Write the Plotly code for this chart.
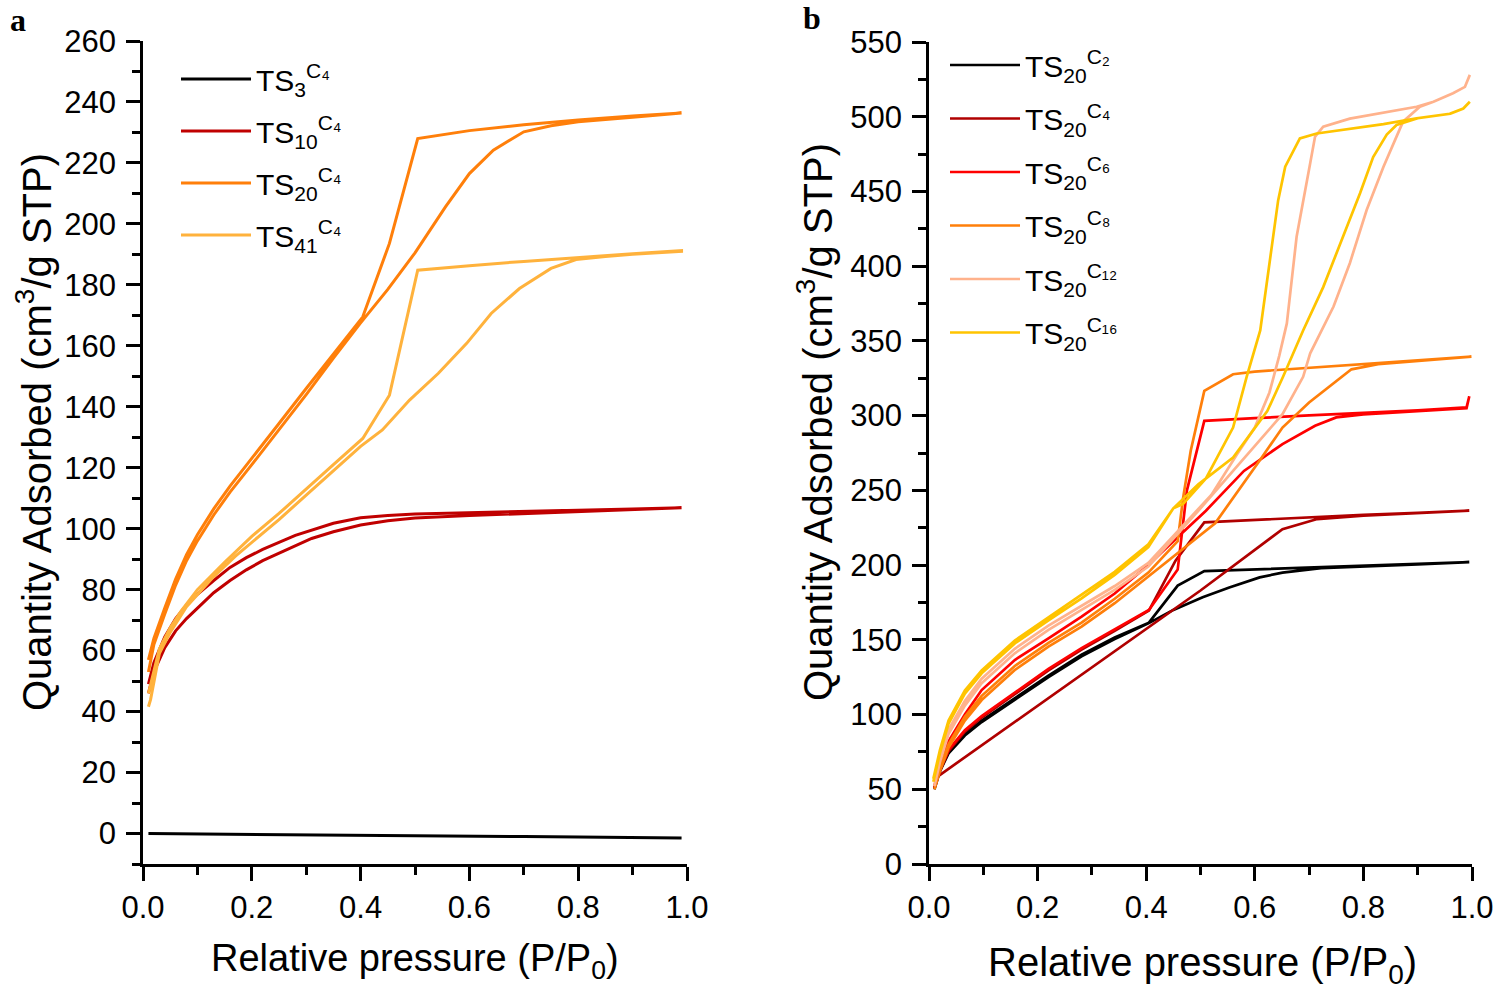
import plotly.graph_objects as go

# ---------------- Panel a data (TS^C4 series) ----------------
a_ts3_p = [0.01, 0.1, 0.2, 0.3, 0.4, 0.5, 0.6, 0.7, 0.8, 0.9, 0.99]
a_ts3_q = [0.0, -0.1, -0.25, -0.4, -0.55, -0.7, -0.85, -1.0, -1.15, -1.3, -1.5]

a_ts10_ads_p = [0.01, 0.02, 0.04, 0.06, 0.08, 0.1, 0.13, 0.16, 0.19, 0.22, 0.25, 0.28, 0.31, 0.35, 0.40, 0.45, 0.5, 0.6, 0.7, 0.8, 0.9, 0.99]
a_ts10_ads_q = [46, 53, 61, 66.5, 70.5, 74, 79, 83, 86.5, 89.5, 92, 94.5, 96.8, 99, 101.2, 102.6, 103.5, 104.3, 105, 105.6, 106.2, 106.8]
a_ts10_des_p = [0.99, 0.9, 0.8, 0.7, 0.6, 0.5, 0.45, 0.4, 0.35, 0.31, 0.28, 0.25, 0.22, 0.19, 0.16, 0.13, 0.1, 0.08, 0.06, 0.04, 0.02, 0.01]
a_ts10_des_q = [106.9, 106.5, 106.1, 105.7, 105.3, 104.8, 104.3, 103.6, 101.8, 99.6, 97.8, 95.5, 93.2, 90.5, 87.3, 83, 78.5, 75, 70.5, 64.5, 56, 49]

a_ts20_ads_p = [0.01, 0.02, 0.04, 0.06, 0.08, 0.1, 0.13, 0.16, 0.2, 0.25, 0.3, 0.35, 0.4, 0.45, 0.5, 0.556, 0.6, 0.644, 0.7, 0.75, 0.8, 0.9, 0.99]
a_ts20_ads_q = [53, 62, 72, 81.5, 89.5, 96, 104.5, 112, 121, 132.5, 144, 156, 167.5, 178.5, 190.5, 205.6, 216.5, 224.2, 230.2, 232.2, 233.5, 235, 236.2]
a_ts20_des_p = [0.99, 0.9, 0.8, 0.7, 0.6, 0.505, 0.453, 0.404, 0.35, 0.3, 0.25, 0.2, 0.16, 0.13, 0.1, 0.08, 0.06, 0.04, 0.02, 0.01]
a_ts20_des_q = [236.4, 235.4, 234.1, 232.5, 230.6, 228, 193.6, 169.5, 157.5, 146, 134.5, 123, 114, 106.5, 98, 91.5, 83.5, 74, 64, 57]

a_ts41_ads_p = [0.01, 0.014, 0.03, 0.05, 0.08, 0.1, 0.13, 0.17, 0.2, 0.25, 0.3, 0.35, 0.4, 0.44, 0.49, 0.543, 0.595, 0.64, 0.692, 0.75, 0.796, 0.85, 0.9, 0.99]
a_ts41_ads_q = [41.6, 44, 59, 66, 74.4, 78.5, 84.3, 91, 95.5, 103, 111, 119, 127, 132.4, 142.2, 151, 160.8, 170.6, 178.8, 185.4, 188.3, 189.3, 190, 191]
a_ts41_des_p = [0.99, 0.9, 0.8, 0.7, 0.6, 0.505, 0.453, 0.404, 0.35, 0.3, 0.25, 0.2, 0.15, 0.1, 0.07, 0.05, 0.03, 0.01]
a_ts41_des_q = [191.2, 190.2, 189, 187.7, 186.3, 184.8, 143.8, 129.6, 121, 113, 105, 97.5, 89, 80, 73, 67.5, 60.5, 46]

# ---------------- Panel b data (TS20^Cn series) ----------------
b_c2_ads_p = [0.01, 0.02, 0.036, 0.066, 0.097, 0.158, 0.22, 0.281, 0.342, 0.404, 0.45, 0.504, 0.553, 0.609, 0.651, 0.722, 0.8, 0.9, 0.995]
b_c2_ads_q = [50, 62, 74, 86, 95, 110, 125, 139, 150.5, 161, 170, 178.5, 185, 191.8, 195, 198, 199.3, 200.5, 202]
b_c2_des_p = [0.995, 0.9, 0.8, 0.7, 0.6, 0.507, 0.458, 0.405, 0.342, 0.281, 0.22, 0.158, 0.097, 0.066, 0.036, 0.02, 0.01]
b_c2_des_q = [202, 200.8, 199.8, 198.5, 197.3, 196, 186.3, 161.5, 151.5, 140, 126, 111, 96, 87, 75, 63, 51]

b_c4_ads_p = [0.01, 0.5, 0.651, 0.715, 0.8, 0.9, 0.995]
b_c4_ads_q = [57, 183, 224, 230.8, 233, 234.8, 236.4]
b_c4_des_p = [0.995, 0.9, 0.8, 0.7, 0.6, 0.507, 0.454, 0.405, 0.342, 0.281, 0.22, 0.158, 0.097, 0.066, 0.036, 0.02, 0.01]
b_c4_des_q = [236.4, 235, 233.6, 232, 230.4, 228.6, 203, 169.6, 156, 143.5, 129.5, 113.5, 98, 88.5, 75.5, 62, 51]

b_c6_ads_p = [0.01, 0.02, 0.036, 0.066, 0.097, 0.158, 0.22, 0.281, 0.342, 0.404, 0.45, 0.51, 0.58, 0.651, 0.711, 0.75, 0.8, 0.9, 0.99, 0.995]
b_c6_ads_q = [52, 66, 82, 100, 116.4, 136.5, 151, 165.5, 181, 200, 216, 236.4, 263, 281, 293.2, 298.8, 300.8, 302.8, 305, 313]
b_c6_des_p = [0.995, 0.99, 0.9, 0.8, 0.7, 0.6, 0.507, 0.475, 0.458, 0.405, 0.342, 0.281, 0.22, 0.158, 0.097, 0.066, 0.036, 0.02, 0.01]
b_c6_des_q = [313, 305.5, 303.5, 302, 300.2, 298.3, 296.5, 250, 197, 170, 157, 144.5, 130.5, 114.5, 99, 89.5, 76.5, 63, 51]

b_c8_ads_p = [0.01, 0.02, 0.036, 0.066, 0.097, 0.158, 0.22, 0.281, 0.342, 0.404, 0.465, 0.527, 0.609, 0.651, 0.70, 0.778, 0.827, 0.9, 0.999]
b_c8_ads_q = [50, 62, 78, 96, 109.7, 129.8, 145.4, 158.8, 174.5, 192.3, 210, 228, 270, 292, 308.8, 331, 334.4, 336.5, 339.3]
b_c8_des_p = [0.999, 0.9, 0.792, 0.7, 0.6, 0.56, 0.507, 0.482, 0.468, 0.458, 0.404, 0.342, 0.281, 0.22, 0.158, 0.097, 0.066, 0.036, 0.02, 0.01]
b_c8_des_q = [339.5, 337, 334.4, 332, 329.5, 327.7, 316.6, 276.5, 245, 216, 195, 177.5, 161.5, 148, 132.5, 112.5, 98.5, 80, 64, 52]

b_c12_ads_p = [0.01, 0.02, 0.036, 0.066, 0.097, 0.158, 0.22, 0.281, 0.342, 0.404, 0.454, 0.50, 0.56, 0.60, 0.651, 0.689, 0.702, 0.745, 0.775, 0.806, 0.837, 0.861, 0.873, 0.904, 0.929, 0.965, 0.987, 0.996]
b_c12_ads_q = [52, 68, 87, 106, 121, 141, 156.6, 170, 183.4, 199, 219, 238, 263, 280, 301, 326, 341.7, 373, 402, 437.6, 466.6, 486.7, 496.7, 506.7, 510, 515.7, 520, 528]
b_c12_des_p = [0.996, 0.987, 0.965, 0.929, 0.898, 0.837, 0.775, 0.726, 0.711, 0.702, 0.689, 0.677, 0.659, 0.645, 0.627, 0.60, 0.567, 0.52, 0.454, 0.404, 0.342, 0.281, 0.22, 0.158, 0.097, 0.066, 0.036, 0.02, 0.01]
b_c12_des_q = [528, 520, 515.7, 510, 506.7, 502.6, 498.7, 493.3, 486.7, 468.8, 444, 419.7, 361.7, 340, 315.5, 292, 274, 247, 221, 201.5, 186, 173, 159.5, 144, 124, 109, 90, 70, 53]

b_c16_ads_p = [0.008, 0.02, 0.036, 0.066, 0.097, 0.158, 0.22, 0.281, 0.342, 0.404, 0.45, 0.496, 0.56, 0.623, 0.652, 0.689, 0.726, 0.763, 0.794, 0.818, 0.843, 0.861, 0.9, 0.96, 0.984, 0.996]
b_c16_ads_q = [55, 74, 94, 114, 127.6, 147.6, 163, 177.8, 193.4, 212, 238, 254, 272, 303, 326, 357, 386, 420, 449, 473, 488, 494.5, 499, 502, 505.5, 510]
b_c16_des_p = [0.996, 0.984, 0.959, 0.898, 0.837, 0.775, 0.714, 0.683, 0.656, 0.643, 0.628, 0.61, 0.585, 0.56, 0.51, 0.468, 0.45, 0.404, 0.342, 0.281, 0.22, 0.158, 0.097, 0.066, 0.036, 0.02, 0.008]
b_c16_des_q = [510, 505.5, 502, 499, 495, 492, 488.8, 485.5, 466.6, 444, 404, 357, 326, 292, 258, 241, 238, 214, 195.5, 180, 165, 149.5, 129.5, 116, 96, 76, 57]

# ---------------- styling ----------------
W, H = 1500, 994
FONT = "Liberation Sans, Arial, sans-serif"
SERIF = "Liberation Serif, Times New Roman, serif"

def px_x(v):
    return v / W

def px_y(v):
    return 1 - v / H

fig = go.Figure()

series_a = [
    ("TS<sub>3</sub><sup>C₄</sup>", "#000000", a_ts3_p, a_ts3_q),
    ("TS<sub>10</sub><sup>C₄</sup>", "#C00000", a_ts10_ads_p + a_ts10_des_p, a_ts10_ads_q + a_ts10_des_q),
    ("TS<sub>20</sub><sup>C₄</sup>", "#FF7F0A", a_ts20_ads_p + a_ts20_des_p, a_ts20_ads_q + a_ts20_des_q),
    ("TS<sub>41</sub><sup>C₄</sup>", "#FFB23C", a_ts41_ads_p + a_ts41_des_p, a_ts41_ads_q + a_ts41_des_q),
]
for i, (name, col, xs, ys) in enumerate(series_a):
    fig.add_trace(go.Scatter(x=xs, y=ys, mode="lines", name=name,
                             line=dict(color=col, width=3),
                             legendgroup=f"a{i}",
                             xaxis="x", yaxis="y", legend="legend"))

series_b = [
    ("TS<sub>20</sub><sup>C₂</sup>", "#000000", b_c2_ads_p + b_c2_des_p, b_c2_ads_q + b_c2_des_q),
    ("TS<sub>20</sub><sup>C₄</sup>", "#B00000", b_c4_ads_p + b_c4_des_p, b_c4_ads_q + b_c4_des_q),
    ("TS<sub>20</sub><sup>C₆</sup>", "#FF0000", b_c6_ads_p + b_c6_des_p, b_c6_ads_q + b_c6_des_q),
    ("TS<sub>20</sub><sup>C₈</sup>", "#FF7F0A", b_c8_ads_p + b_c8_des_p, b_c8_ads_q + b_c8_des_q),
    ("TS<sub>20</sub><sup>C₁₂</sup>", "#FFB28C", b_c12_ads_p + b_c12_des_p, b_c12_ads_q + b_c12_des_q),
    ("TS<sub>20</sub><sup>C₁₆</sup>", "#FFC400", b_c16_ads_p + b_c16_des_p, b_c16_ads_q + b_c16_des_q),
]
for i, (name, col, xs, ys) in enumerate(series_b):
    fig.add_trace(go.Scatter(x=xs, y=ys, mode="lines", name=name,
                             line=dict(color=col, width=2.7),
                             legendgroup=f"b{i}",
                             xaxis="x2", yaxis="y2", legend="legend2"))

minor_style = dict(ticklen=8, tickwidth=2.5, tickcolor="black", ticks="outside")
axis_common = dict(
    showline=True, linecolor="black", linewidth=2.5,
    ticks="outside", ticklen=14, tickwidth=2.5, tickcolor="black",
    showgrid=False, zeroline=False, automargin=False, ticklabeloverflow="allow",
    tickfont=dict(family=FONT, size=31, color="black"),
)
xcommon = dict(axis_common, range=[0, 1], dtick=0.2, tick0=0, tickformat=".1f",
               minor=dict(minor_style, dtick=0.1), ticklabelstandoff=0)

ytitle = "Quantity Adsorbed (cm<sup>3</sup>/g STP)"
xtitle = "Relative pressure (P/P<sub>0</sub>)"

def ann(text, x, y, size, angle=0, family=FONT, xanchor="center", yanchor="middle"):
    return dict(text=text, x=px_x(x), y=px_y(y), xref="paper", yref="paper",
                xanchor=xanchor, yanchor=yanchor, showarrow=False, textangle=angle,
                font=dict(family=family, size=size, color="black"))

legend_common = dict(xanchor="left", yanchor="top", bgcolor="rgba(0,0,0,0)", borderwidth=0,
                     font=dict(family=FONT, size=30, color="black"), itemwidth=70)

fig.update_layout(
    width=W, height=H,
    margin=dict(l=0, r=0, t=0, b=0, autoexpand=False),
    paper_bgcolor="white", plot_bgcolor="white",
    showlegend=True,
    xaxis=dict(xcommon, domain=[px_x(143), px_x(687)], anchor="y"),
    yaxis=dict(axis_common, domain=[px_y(864), px_y(41)], anchor="x",
               range=[-10, 260], dtick=20, tick0=0,
               minor=dict(minor_style, dtick=10), ticklabelstandoff=4),
    xaxis2=dict(xcommon, domain=[px_x(929), px_x(1472)], anchor="y2"),
    yaxis2=dict(axis_common, domain=[px_y(864), px_y(42)], anchor="x2",
                range=[0, 550], dtick=50, tick0=0,
                minor=dict(minor_style, dtick=25), ticklabelstandoff=4),
    legend=dict(legend_common, x=px_x(176), y=px_y(53), tracegroupgap=10),
    legend2=dict(legend_common, x=px_x(945), y=px_y(39), tracegroupgap=11.5),
    annotations=[
        ann(xtitle, 415, 961, 38),
        ann(xtitle, 1202, 965, 40),
        ann(ytitle, 34, 432, 40, angle=-90),
        ann(ytitle, 815, 422, 40, angle=-90),
        ann("<b>a</b>", 8, 20, 32, family=SERIF, xanchor="left"),
        ann("<b>b</b>", 801, 18, 32, family=SERIF, xanchor="left"),
    ],
)

# remove the default 8px page margin so the 1500x994 figure fills the window exactly
fig.write_html("out.html",
               config={"displayModeBar": False},
               post_script="document.body.style.margin='0';document.body.style.overflow='hidden';")
